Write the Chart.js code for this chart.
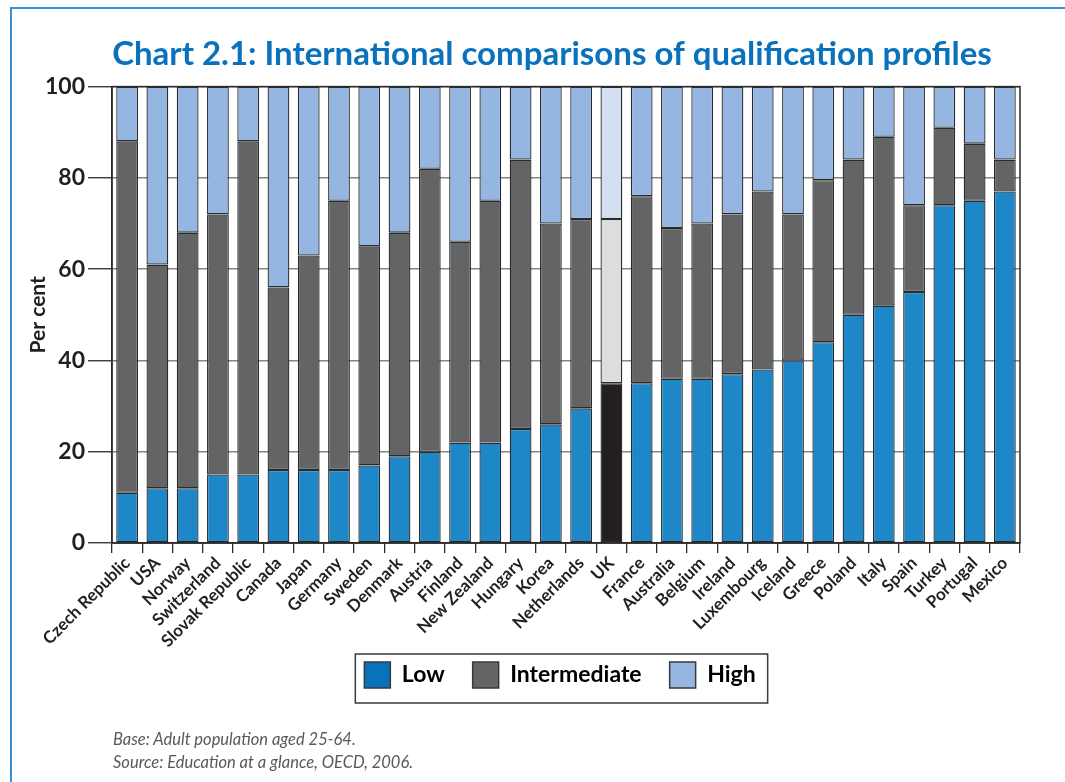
<!DOCTYPE html>
<html>
<head>
<meta charset="utf-8">
<script src="https://cdn.jsdelivr.net/npm/chart.js@4.4.1/dist/chart.umd.min.js"></script>
<style>
    html, body { margin: 0; padding: 0; background: #ffffff; overflow: hidden; }
    #wrap { position: relative; width: 1065px; height: 782px; }
    #frame { position: absolute; left: 10px; top: 7px; width: 1100px; height: 800px;
             border-top: 2px solid #3a8fd3; border-left: 2px solid #3a8fd3; }
    canvas { position: absolute; left: 0; top: 0; }
    .note { position: absolute; left: 113px; font: italic 16.5px Lato, sans-serif; color: #58595b; }
</style>
</head>
<body>
<div id="wrap">
    <div id="frame"></div>
    <canvas id="qualChart" width="1065" height="782"></canvas>
    <div class="note" style="top: 729px;">Base: Adult population aged 25-64.</div>
    <div class="note" style="top: 752px;">Source: Education at a glance, OECD, 2006.</div>
</div>
<script>
const countries = ["Czech Republic", "USA", "Norway", "Switzerland", "Slovak Republic", "Canada", "Japan",
    "Germany", "Sweden", "Denmark", "Austria", "Finland", "New Zealand", "Hungary", "Korea", "Netherlands",
    "UK", "France", "Australia", "Belgium", "Ireland", "Luxembourg", "Iceland", "Greece", "Poland", "Italy",
    "Spain", "Turkey", "Portugal", "Mexico"];
const lowValues = [11, 12, 12, 15, 15, 16, 16, 16, 17, 19, 20, 22, 22, 25, 26, 29.5,
    35, 35, 36, 36, 37, 38, 40, 44, 50, 52, 55, 74, 75, 77];
const intermediateValues = [77, 49, 56, 57, 73, 40, 47, 59, 48, 49, 62, 44, 53, 59, 44, 41.5,
    36, 41, 33, 34, 35, 39, 32, 35.5, 34, 37, 19, 17, 12.5, 7];
const highValues = [12, 39, 32, 28, 12, 44, 37, 25, 35, 32, 18, 34, 25, 16, 30, 29,
    29, 24, 31, 30, 28, 23, 28, 20.5, 16, 11, 26, 9, 12.5, 16];
const yTickValues = [0, 20, 40, 60, 80, 100];

const seriesNames = ["Low", "Intermediate", "High"];
const barColors = ["#1e87c8", "#636466", "#96b6e2"];
const ukColors = ["#231f20", "#dcdddf", "#d4e0f2"];
const legendColors = ["#0a72bc", "#636466", "#96b6e2"];
const highlight = "UK";

function makeDataset(i, values) {
    return {
        label: seriesNames[i],
        data: values,
        backgroundColor: ctx => countries[ctx.dataIndex] === highlight ? ukColors[i] : barColors[i],
        borderColor: "#2b2b2b",
        borderWidth: 1.3,
        borderSkipped: false,
        barPercentage: 0.72,
        categoryPercentage: 1.0
    };
}

// moves title and legend so they sit where the original has them, and draws the boxes
const framePlugin = {
    id: "framePlugin",
    afterLayout(chart) {
        const t = chart.titleBlock;
        let dx = 552 - (t.left + t.right) / 2;
        t.left += dx; t.right += dx;
        const lg = chart.legend;
        dx = 560 - (lg.left + lg.right) / 2;
        lg.left += dx; lg.right += dx;
        const dy = 634 - lg.top;
        lg.top += dy; lg.bottom += dy;
    },
    afterDatasetsDraw(chart) {
        const a = chart.chartArea, ctx = chart.ctx;
        ctx.save();
        ctx.strokeStyle = "#2b2b2b";
        ctx.lineWidth = 1.5;
        ctx.strokeRect(a.left, a.top, a.right - a.left, a.bottom - a.top);
        ctx.restore();
    },
    afterDraw(chart) {
        const hb = chart.legend.legendHitBoxes;
        if (!hb || !hb.length) return;
        const first = hb[0], last = hb[hb.length - 1];
        const ctx = chart.ctx;
        ctx.save();
        ctx.strokeStyle = "#3a3a3a";
        ctx.lineWidth = 1.5;
        const l = first.left - 9, r = last.left + last.width + 12;
        const t = first.top - 8, b = first.top + first.height + 15;
        ctx.strokeRect(l, t, r - l, b - t);
        ctx.restore();
    }
};

const ctx = document.getElementById("qualChart").getContext("2d");
new Chart(ctx, {
    type: "bar",
    data: {
        labels: countries,
        datasets: [makeDataset(0, lowValues), makeDataset(1, intermediateValues), makeDataset(2, highValues)]
    },
    options: {
        responsive: false,
        animation: false,
        layout: { padding: { top: 0, left: 26, right: 45, bottom: 65 } },
        scales: {
            x: {
                stacked: true,
                grid: { display: true, drawOnChartArea: false, offset: true, tickLength: 10, color: "#2b2b2b", lineWidth: 1.3 },
                border: { display: true, color: "#2b2b2b", width: 1.5 },
                ticks: {
                    minRotation: 45, maxRotation: 45, autoSkip: false, padding: 0,
                    color: "#231f20", font: { family: "Lato", size: 17, weight: "bold" }
                },
                afterFit(scale) { scale.height = 110; }
            },
            y: {
                stacked: true,
                min: 0, max: 100,
                afterBuildTicks(scale) { scale.ticks = yTickValues.map(v => ({ value: v })); },
                grid: { color: "#858585", lineWidth: 1.5, tickLength: 24, tickColor: "#2b2b2b", tickWidth: 1.3 },
                border: { display: true, color: "#2b2b2b", width: 1.5 },
                ticks: { padding: 3, color: "#231f20", font: { family: "Lato", size: 23, weight: "bold" } },
                title: {
                    display: true, text: "Per cent", color: "#231f20", padding: 0,
                    font: { family: "Lato", size: 21, weight: "bold" }
                },
                afterFit(scale) { scale.width = 86; }
            }
        },
        plugins: {
            title: {
                display: true,
                text: "Chart 2.1: International comparisons of qualification profiles",
                color: "#0a72bc",
                font: { family: "Lato", size: 33, weight: "bold" },
                padding: { top: 35, bottom: 12 }
            },
            legend: {
                position: "bottom",
                labels: {
                    boxWidth: 26, boxHeight: 26, padding: 28,
                    color: "#231f20",
                    font: { family: "Lato", size: 23, weight: "bold" },
                    generateLabels: () => seriesNames.map((name, i) => ({
                        text: name, fillStyle: legendColors[i], strokeStyle: "#3a3a3a",
                        lineWidth: 1.5, datasetIndex: i, hidden: false
                    }))
                }
            },
            tooltip: { enabled: false }
        }
    },
    plugins: [framePlugin]
});
</script>
</body>
</html>
